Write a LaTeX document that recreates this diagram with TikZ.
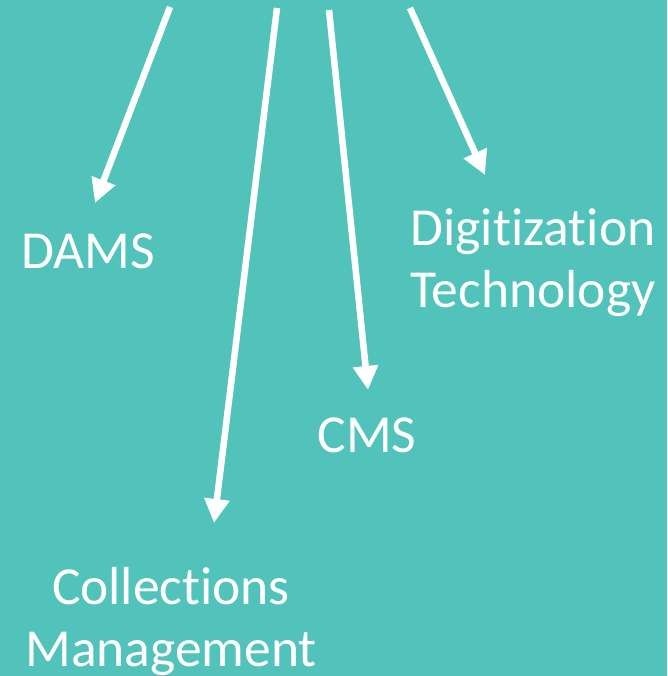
\documentclass[tikz,border=0pt]{standalone}
\usepackage{fontspec}
\setmainfont{Carlito}[Ligatures={NoCommon,NoRequired,NoContextual}]
\usetikzlibrary{arrows.meta}
\definecolor{tealbg}{RGB}{82,195,187}
\tikzset{
  label/.style={text=white,font=\fontsize{53.5}{62}\selectfont,align=center,inner sep=0pt},
  pointer/.style={draw=white,line width=6.5pt,-{Triangle[width=24pt,length=24pt]}}
}
\begin{document}
\begin{tikzpicture}[x=1pt,y=-1pt]
			\fill[tealbg] (0,0) rectangle (667,676);
			\useasboundingbox (0,0) rectangle (667,676);
			
			\node[label,anchor=base] (dams) at (88,268) {DAMS};
			\node[label,anchor=base] (cms) at (367,452) {CMS};
			\node[label,anchor=base] (digi) at (533,307) {Digitization\\Technology};
			\node[label,anchor=base] (coll) at (171,666) {Collections\\Management};
			
			\coordinate (s1) at (170,7);   \coordinate (t1) at (95,203);
			\coordinate (s2) at (277,8);   \coordinate (t2) at (214,523);
			\coordinate (s3) at (329,10);  \coordinate (t3) at (368,390);
			\coordinate (s4) at (410,8);   \coordinate (t4) at (485,175);
			
			\foreach \i in {1,...,4} {
				\draw [pointer] (s\i) -- (t\i);
			}
\end{tikzpicture}
\end{document}
